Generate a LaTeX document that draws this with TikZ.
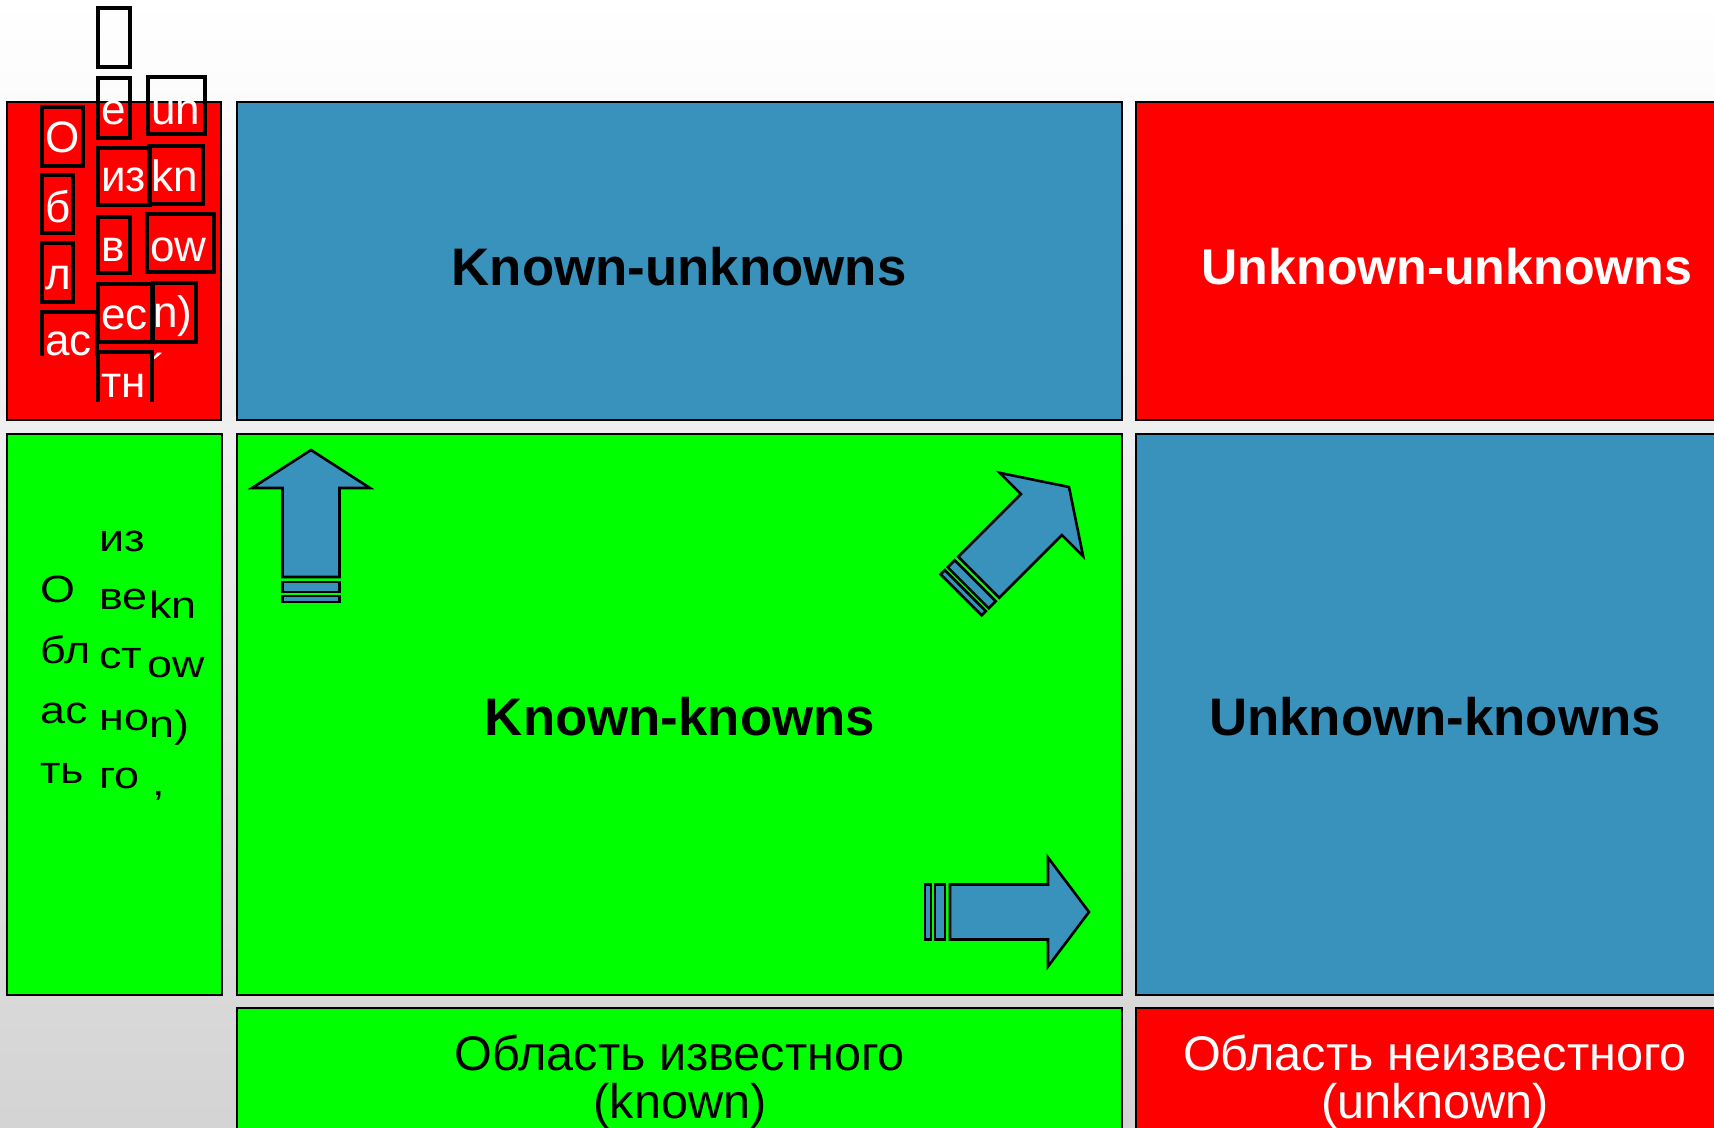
\documentclass[tikz,border=0pt]{standalone}
\usepackage{fontspec}
\setmainfont{Liberation Sans}
\newfontfamily\widesans[FakeStretch=1.18]{Liberation Sans}
\definecolor{cellred}{RGB}{255,0,0}
\definecolor{cellgreen}{RGB}{0,255,0}
\definecolor{cellblue}{RGB}{56,146,188}
\begin{document}
\begin{tikzpicture}[x=0.5pt,y=-0.5pt,
  cell/.style={draw=black,line width=1pt},
  title/.style={font=\fontsize{26.4}{30}\selectfont\bfseries, inner sep=0pt},
  area/.style={font=\fontsize{24.3}{24}\selectfont, inner sep=0pt, anchor=base},
  glyphs/.style={font=\fontsize{22}{22}\selectfont, text=white, inner sep=0pt, anchor=base west},
  greenglyphs/.style={font=\widesans\fontsize{19}{19}\selectfont, inner sep=0pt, anchor=base west},
  glyphbox/.style={draw=black, line width=1.6pt},
  arrowbody/.style={fill=cellblue, draw=black, line width=1.3pt, line join=miter},
  pics/fatarrow/.style args={#1/#2/#3/#4}{code={
    \filldraw[arrowbody] (0,0) -- (#2,#1) -- (#3,#1) -- (#3,#4) -- ({-#3},#4)
      -- ({-#3},#1) -- ({-#2},#1) -- cycle;
    \filldraw[arrowbody] ({-#3},{#4+5}) rectangle (#3,{#4+15});
    \filldraw[arrowbody] ({-#3},{#4+19}) rectangle (#3,{#4+25});
  }}
]
\useasboundingbox (0,0) rectangle (1714,1128);
\clip (0,0) rectangle (1714,1128);

% page background
\shade[top color=white, middle color=gray!4, bottom color=gray!34] (0,0) rectangle (1714,1128);

% grid of cells
\filldraw[cell, fill=cellred]   (7,102)   rectangle (221,420);
\filldraw[cell, fill=cellblue]  (237,102) rectangle (1122,420);
\filldraw[cell, fill=cellred]   (1136,102) rectangle (1730,420);
\filldraw[cell, fill=cellgreen] (7,434)   rectangle (222,995);
\filldraw[cell, fill=cellgreen] (237,434) rectangle (1122,995);
\filldraw[cell, fill=cellblue]  (1136,434) rectangle (1730,995);
\filldraw[cell, fill=cellgreen] (237,1008) rectangle (1122,1150);
\filldraw[cell, fill=cellred]   (1136,1008) rectangle (1730,1150);

% quadrant titles
\node[title] (ku) at (679,267) {Known-unknowns};
\node[title, text=white, font=\fontsize{25.1}{30}\selectfont\bfseries] (uu) at (1447,267) {Unknown-unknowns};
\node[title] (kk) at (680,717) {Known-knowns};
\node[title] (uk) at (1435,717) {Unknown-knowns};

% column captions
\node[area] (kwa) at (680,1070) {Область известного};
\node[area] (kwb) at (680,1118) {(known)};
\node[area, text=white] (uka) at (1435,1070) {Область неизвестного};
\node[area, text=white] (ukb) at (1435,1118) {(unknown)};

% row caption of the upper row, broken into glyph runs
\node[glyphs] (uo1) at (45,153) {О};
\node[glyphs] (uo2) at (45,223) {б};
\node[glyphs] (uo3) at (45,290) {л};
\begin{scope}
  \clip (0,0) rectangle (220,357);
  \node[glyphs] (uo4) at (45,356) {ас};
\end{scope}
\node[glyphs] (ue1) at (101,125) {е};
\node[glyphs] (ue2) at (101,192) {из};
\node[glyphs] (ue3) at (101,262) {в};
\node[glyphs] (ue4) at (101,330) {ес};
\node[glyphs] (ue5) at (101,398) {тн};
\node[glyphs] (uk1) at (151,125) {un};
\node[glyphs] (uk2) at (151,192) {kn};
\node[glyphs] (uk3) at (150,262) {ow};
\node[glyphs] (uk4) at (153,328) {n)};
\node[glyphs] (uk5) at (151,386) {´};

% outlines of the glyph runs
\draw[glyphbox] (42,107) rectangle (83,166);
\draw[glyphbox] (42,175) rectangle (73,233);
\draw[glyphbox] (42,243) rectangle (73,302);
\draw[glyphbox] (42,356) -- (42,312) -- (97,312) -- (97,356);
\draw[glyphbox] (98,8) rectangle (130,67);
\draw[glyphbox] (98,78) rectangle (130,138);
\draw[glyphbox] (98,148) rectangle (150,205);
\draw[glyphbox] (98,217) rectangle (130,273);
\draw[glyphbox] (98,284) rectangle (152,342);
\draw[glyphbox] (98,402) -- (98,352) -- (152,352) -- (152,402);
\draw[glyphbox] (148,77) rectangle (205,134);
\draw[glyphbox] (149,146) rectangle (203,204);
\draw[glyphbox] (147,214) rectangle (214,272);
\draw[glyphbox] (153,283) rectangle (196,342);

% row caption of the middle row, broken into glyph runs
\node[greenglyphs] (ko1) at (40,603) {О};
\node[greenglyphs] (ko2) at (40,663) {бл};
\node[greenglyphs] (ko3) at (40,723) {ас};
\node[greenglyphs] (ko4) at (40,783) {ть};
\node[greenglyphs] (ki1) at (99,552) {из};
\node[greenglyphs] (ki2) at (99,610) {ве};
\node[greenglyphs] (ki3) at (99,668) {ст};
\node[greenglyphs] (ki4) at (99,730) {но};
\node[greenglyphs] (ki5) at (99,788) {го};
\node[greenglyphs] (kn1) at (149,618) {kn};
\node[greenglyphs] (kn2) at (147,677) {ow};
\node[greenglyphs] (kn3) at (149,737) {n)};
\node[greenglyphs] (kn4) at (152,795) {,};

% striped block arrows
\pic at (311,450) {fatarrow=38/59/28.5/127};
\pic[rotate=-45] at (1069,487) {fatarrow=39/59/29/127.6};
\pic[rotate=-90] at (1089,912) {fatarrow=41/54.5/27.5/139};
\end{tikzpicture}
\end{document}
